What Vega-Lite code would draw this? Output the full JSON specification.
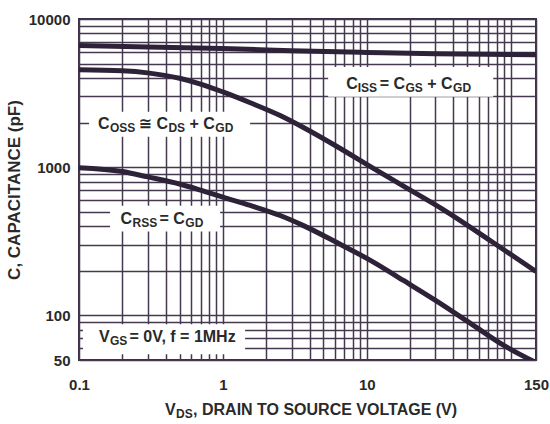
{
  "$schema": "https://vega.github.io/schema/vega-lite/v6.json",
  "width": 457,
  "height": 341,
  "autosize": {"type": "none"},
  "padding": {"left": 79, "top": 19, "right": 14, "bottom": 64},
  "background": "white",
  "config": {
    "view": {"stroke": "#3b2f48", "strokeWidth": 2},
    "font": "Liberation Sans"
  },
  "datasets": {
    "curves": [
      {"series": "Ciss", "vds": 0.1, "c": 6620},
      {"series": "Ciss", "vds": 0.3, "c": 6480},
      {"series": "Ciss", "vds": 1, "c": 6320},
      {"series": "Ciss", "vds": 3, "c": 6110},
      {"series": "Ciss", "vds": 10, "c": 5950},
      {"series": "Ciss", "vds": 30, "c": 5820},
      {"series": "Ciss", "vds": 150, "c": 5730},
      {"series": "Coss", "vds": 0.1, "c": 4540},
      {"series": "Coss", "vds": 0.2, "c": 4470},
      {"series": "Coss", "vds": 0.3, "c": 4330},
      {"series": "Coss", "vds": 0.5, "c": 3980},
      {"series": "Coss", "vds": 0.7, "c": 3640},
      {"series": "Coss", "vds": 1, "c": 3220},
      {"series": "Coss", "vds": 1.55, "c": 2720},
      {"series": "Coss", "vds": 2.5, "c": 2230},
      {"series": "Coss", "vds": 3.6, "c": 1860},
      {"series": "Coss", "vds": 6.2, "c": 1380},
      {"series": "Coss", "vds": 10.6, "c": 1010},
      {"series": "Coss", "vds": 18, "c": 745},
      {"series": "Coss", "vds": 34, "c": 517},
      {"series": "Coss", "vds": 72, "c": 320},
      {"series": "Coss", "vds": 150, "c": 198},
      {"series": "Crss", "vds": 0.1, "c": 993},
      {"series": "Crss", "vds": 0.2, "c": 935},
      {"series": "Crss", "vds": 0.3, "c": 860},
      {"series": "Crss", "vds": 0.5, "c": 770},
      {"series": "Crss", "vds": 0.7, "c": 700},
      {"series": "Crss", "vds": 1, "c": 628},
      {"series": "Crss", "vds": 1.55, "c": 552},
      {"series": "Crss", "vds": 2.5, "c": 472},
      {"series": "Crss", "vds": 3.6, "c": 405},
      {"series": "Crss", "vds": 6.2, "c": 310},
      {"series": "Crss", "vds": 10.6, "c": 235},
      {"series": "Crss", "vds": 18, "c": 172},
      {"series": "Crss", "vds": 31, "c": 124},
      {"series": "Crss", "vds": 52, "c": 89},
      {"series": "Crss", "vds": 89, "c": 63},
      {"series": "Crss", "vds": 150, "c": 48}
    ],
    "boxes": [
      {"name": "Ciss", "xa": 5.39, "xb": 75.7, "ya": 4752, "yb": 2983},
      {"name": "Coss", "xa": 0.1174, "xb": 1.546, "ya": 2364, "yb": 1605},
      {"name": "Crss", "xa": 0.1643, "xb": 0.956, "ya": 550, "yb": 368},
      {"name": "Vgs", "xa": 0.1066, "xb": 1.427, "ya": 87.0, "yb": 54.6}
    ],
    "labels": [
      {"part": "main", "vds": 7.19, "c": 3378, "text": "C"},
      {"part": "sub", "vds": 8.66, "c": 3378, "text": "ISS"},
      {"part": "main", "vds": 12.29, "c": 3378, "text": "= C"},
      {"part": "sub", "vds": 18.58, "c": 3378, "text": "GS"},
      {"part": "main", "vds": 26.3, "c": 3378, "text": "+ C"},
      {"part": "sub", "vds": 39.77, "c": 3378, "text": "GD"},
      {"part": "main", "vds": 0.1355, "c": 1803, "text": "C"},
      {"part": "sub", "vds": 0.1643, "c": 1803, "text": "OSS"},
      {"part": "main", "vds": 0.2593, "c": 1803, "text": "≅ C"},
      {"part": "sub", "vds": 0.4184, "c": 1803, "text": "DS"},
      {"part": "main", "vds": 0.5867, "c": 1803, "text": "+ C"},
      {"part": "sub", "vds": 0.8867, "c": 1803, "text": "GD"},
      {"part": "main", "vds": 0.1944, "c": 413.2, "text": "C"},
      {"part": "sub", "vds": 0.2355, "c": 413.2, "text": "RSS"},
      {"part": "main", "vds": 0.3629, "c": 413.2, "text": "= C"},
      {"part": "sub", "vds": 0.5484, "c": 413.2, "text": "GD"},
      {"part": "main", "vds": 0.1377, "c": 65.8, "text": "V"},
      {"part": "sub", "vds": 0.1643, "c": 65.8, "text": "GS"},
      {"part": "main", "vds": 0.2245, "c": 65.8, "text": "= 0V, f = 1MHz"},
      {"part": "main", "vds": 0.3963, "c": 21.21, "text": "V"},
      {"part": "sub", "vds": 0.4727, "c": 21.21, "text": "DS"},
      {"part": "main", "vds": 0.6206, "c": 21.21, "text": ", DRAIN TO SOURCE VOLTAGE (V)"}
    ]
  },
  "layer": [
    {
      "data": {"name": "curves"},
      "mark": {"type": "line", "color": "#2e2238", "strokeWidth": 5, "interpolate": "monotone", "clip": true},
      "encoding": {
        "x": {
          "field": "vds", "type": "quantitative",
          "scale": {"type": "log", "domain": [0.1, 150], "nice": false},
          "axis": {
            "values": [0.1, 0.2, 0.3, 0.4, 0.5, 0.6, 0.7, 0.8, 0.9, 1, 2, 3, 4, 5, 6, 7, 8, 9, 10, 20, 30, 40, 50, 60, 70, 80, 90, 100, 150],
            "format": "~g",
            "labelExpr": "datum.value == 0.1 || datum.value == 1 || datum.value == 10 || datum.value == 150 ? datum.label : ''",
            "grid": true, "gridColor": "#45394f", "gridWidth": 1.5, "gridOpacity": 1,
            "ticks": false, "domain": false,
            "labelFont": "Liberation Sans", "labelFontWeight": "bold", "labelFontSize": 15,
            "labelColor": "#2a2a2a", "labelPadding": 17, "labelFlush": false, "labelOverlap": false,
            "title": null
          }
        },
        "y": {
          "field": "c", "type": "quantitative",
          "scale": {"type": "log", "domain": [50, 10000], "nice": false},
          "axis": {
            "values": [50, 60, 70, 80, 90, 100, 200, 300, 400, 500, 600, 700, 800, 900, 1000, 2000, 3000, 4000, 5000, 6000, 7000, 8000, 9000, 10000],
            "format": "~g",
            "labelExpr": "datum.value == 50 || datum.value == 100 || datum.value == 1000 || datum.value == 10000 ? datum.label : ''",
            "grid": true, "gridColor": "#45394f", "gridWidth": 1.5, "gridOpacity": 1,
            "ticks": false, "domain": false,
            "labelFont": "Liberation Sans", "labelFontWeight": "bold", "labelFontSize": 15,
            "labelColor": "#2a2a2a", "labelPadding": 9, "labelFlush": false, "labelOverlap": false,
            "title": "C, CAPACITANCE (pF)",
            "titleFont": "Liberation Sans", "titleFontWeight": "bold", "titleFontSize": 17,
            "titleColor": "#2a2a2a", "titlePadding": 5
          }
        },
        "detail": {"field": "series", "type": "nominal"}
      }
    },
    {
      "data": {"name": "boxes"},
      "mark": {"type": "rect", "fill": "white", "opacity": 1},
      "encoding": {
        "x": {"field": "xa", "type": "quantitative", "scale": {"type": "log", "domain": [0.1, 150], "nice": false}},
        "x2": {"field": "xb"},
        "y": {"field": "ya", "type": "quantitative", "scale": {"type": "log", "domain": [50, 10000], "nice": false}},
        "y2": {"field": "yb"}
      }
    },
    {
      "data": {"name": "labels"},
      "transform": [{"filter": "datum.part == 'main'"}],
      "mark": {"type": "text", "align": "left", "baseline": "alphabetic", "font": "Liberation Sans, DejaVu Sans", "fontWeight": "bold", "fontSize": 16, "color": "#2a2a2a"},
      "encoding": {
        "x": {"field": "vds", "type": "quantitative", "scale": {"type": "log", "domain": [0.1, 150], "nice": false}},
        "y": {"field": "c", "type": "quantitative", "scale": {"type": "log", "domain": [50, 10000], "nice": false}},
        "text": {"field": "text"}
      }
    },
    {
      "data": {"name": "labels"},
      "transform": [{"filter": "datum.part == 'sub'"}],
      "mark": {"type": "text", "align": "left", "baseline": "alphabetic", "dy": 3, "font": "Liberation Sans", "fontWeight": "bold", "fontSize": 12, "color": "#2a2a2a"},
      "encoding": {
        "x": {"field": "vds", "type": "quantitative", "scale": {"type": "log", "domain": [0.1, 150], "nice": false}},
        "y": {"field": "c", "type": "quantitative", "scale": {"type": "log", "domain": [50, 10000], "nice": false}},
        "text": {"field": "text"}
      }
    }
  ]
}
